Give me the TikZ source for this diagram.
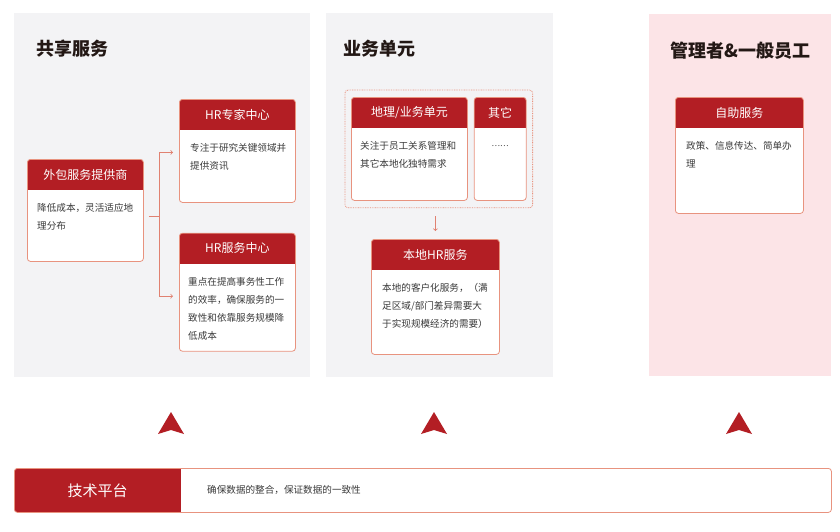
\documentclass[tikz,border=0pt]{standalone}
\usepackage{fontspec}
\setmainfont{Noto Sans CJK SC}
\usetikzlibrary{positioning,fit}
\definecolor{hdred}{HTML}{B31E24}
\definecolor{lnred}{HTML}{E8937F}
\definecolor{panelgray}{HTML}{F3F3F5}
\definecolor{panelpink}{HTML}{FCE4E7}
\definecolor{ink}{HTML}{231815}
\definecolor{bodyink}{HTML}{3A3A3A}

\begin{document}
\begin{tikzpicture}[x=1pt, y=-1pt, thin,
    panel/.style = {fill=panelgray, anchor=north west, inner sep=0pt},
    ttl/.style = {font=\fontsize{18}{20}\selectfont\bfseries, text=ink, inner sep=0pt},
    card/.style = {draw=lnred, line width=0.8pt, fill=white, rounded corners=3pt, anchor=north west, inner sep=0pt,
        path picture={\fill[hdred, sharp corners] (path picture bounding box.north west) rectangle ([yshift=-31pt]path picture bounding box.north east);}},
    tpbox/.style = {draw=lnred, line width=0.8pt, fill=white, rounded corners=3pt, anchor=north west, inner sep=0pt,
        path picture={\fill[hdred, sharp corners] (path picture bounding box.north west) rectangle ([xshift=167pt]path picture bounding box.south west);}},
    hdtxt/.style = {font=\fontsize{12}{14}\selectfont, text=white, inner sep=0pt},
    txt/.style = {font=\fontsize{9.6}{18}\selectfont, text=bodyink, align=left, anchor=north west, inner sep=0pt},
    dotbox/.style = {draw=lnred, line width=0.8pt, dash pattern=on 0.8pt off 0.9pt, rounded corners=3pt, inner xsep=6pt, inner ysep=7pt},
    conn/.style = {draw=lnred!85!hdred, line width=0.8pt},
    upar/.style = {fill=hdred}]
    \path[fill=white, use as bounding box] (0,0) rectangle (840,531);
    \node[panel, minimum width=296pt, minimum height=364pt] (p1) at (14,13) {};
    \node[panel, minimum width=227pt, minimum height=364pt] (p2) at (326,13) {};
    \node[panel, fill=panelpink, minimum width=182pt, minimum height=362pt] (p3) at (649,14) {};
    \node[ttl, anchor=west] (t1) at (36,48.5) {共享服务};
    \node[ttl, anchor=west] (t2) at (343,48.5) {业务单元};
    \node[ttl] (t3) at (740.5,50.5) {管理者\&一般员工};
    \node[card, minimum width=116pt, minimum height=102pt] (c1) at (27,159) {};
    \node[hdtxt] (c1h) at ([yshift=-15.5pt]c1.north) {外包服务提供商};
    \node[txt, below right=44pt and 10pt of c1.north west] (c1t) {降低成本，灵活适应地\\理分布};
    \node[card, minimum width=116pt, minimum height=103pt] (c2) at (179,99) {};
    \node[hdtxt] (c2h) at ([yshift=-15.5pt]c2.north) {HR专家中心};
    \node[txt, below right=44pt and 11pt of c2.north west] (c2t) {专注于研究关键领域并\\提供资讯};
    \node[card, minimum width=116pt, minimum height=118pt, below=30pt of c2] (c3) {};
    \node[hdtxt] (c3h) at ([yshift=-15.5pt]c3.north) {HR服务中心};
    \node[txt, below right=44pt and 9pt of c3.north west] (c3t) {重点在提高事务性工作\\的效率，确保服务的一\\致性和依靠服务规模降\\低成本};
    \draw[conn] ([xshift=5pt, yshift=-6pt]c1.east) -- ++(11pt,0) coordinate (fork);
    \draw[conn, ->] (fork) |- ([xshift=-6pt, yshift=-1.5pt]c2.west);
    \draw[conn, ->] (fork) |- ([xshift=-6pt, yshift=-4pt]c3.west);
    \node[card, minimum width=116pt, minimum height=103pt] (c4) at (351,97) {};
    \node[hdtxt] (c4h) at ([yshift=-15.5pt]c4.north) {地理/业务单元};
    \node[txt, below right=44pt and 9pt of c4.north west] (c4t) {关注于员工关系管理和\\其它本地化独特需求};
    \node[card, minimum width=52pt, minimum height=103pt, right=6pt of c4] (c5) {};
    \node[hdtxt] (c5h) at ([yshift=-15.5pt]c5.north) {其它};
    \node[txt, font=\fontsize{8}{18}\selectfont, anchor=center] (c5t) at ([yshift=-49pt]c5.north) {……};
    \node[dotbox, fit=(c4)(c5)] (grp) {};
    \node[card, minimum width=128pt, minimum height=115pt] (c6) at (371,239) {};
    \node[hdtxt] (c6h) at ([yshift=-15.5pt]c6.north) {本地HR服务};
    \node[txt, below right=44pt and 11pt of c6.north west] (c6t) {本地的客户化服务，（满\\足区域/部门差异需要大\\于实现规模经济的需要）};
    \draw[conn, ->, shorten <=8pt, shorten >=8pt] (grp.south -| c6.north) -- (c6.north);
    \node[card, minimum width=128pt, minimum height=116pt] (c7) at (675,97) {};
    \node[hdtxt] (c7h) at ([yshift=-15.5pt]c7.north) {自助服务};
    \node[txt, below right=44pt and 11pt of c7.north west] (c7t) {政策、信息传达、简单办\\理};
    \fill[upar] (171,412) -- (184,434) -- (171,430) -- (158,434) -- cycle;
    \fill[upar] (434,412) -- (447,434) -- (434,430) -- (421,434) -- cycle;
    \fill[upar] (739,412) -- (752,434) -- (739,430) -- (726,434) -- cycle;
    \node[tpbox, minimum width=817pt, minimum height=44pt] (tp) at (14,468) {};
    \node[hdtxt, font=\fontsize{15}{17}\selectfont] (tph) at ([xshift=83.5pt]tp.west) {技术平台};
    \node[txt, anchor=west] (tpt) at ([xshift=193pt]tp.west) {确保数据的整合，保证数据的一致性};
\end{tikzpicture}
\end{document}
